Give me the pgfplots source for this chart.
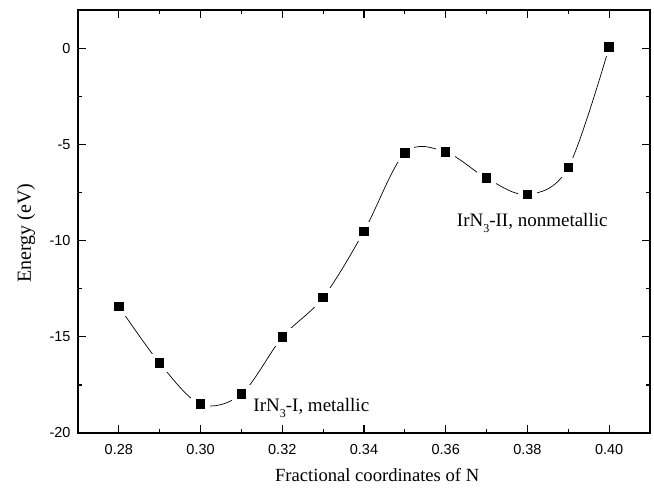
\documentclass[border=0pt]{standalone}
\usepackage{pgfplots}
\pgfplotsset{compat=1.18}
\usetikzlibrary{calc}
\usepackage{fontspec}
\setmainfont{Liberation Serif}
\newfontfamily\arialf{Liberation Sans}
\newcommand{\sub}[1]{{\fontsize{12}{12}\selectfont\raisebox{-0.5em}{#1}}}
\begin{document}
\begin{tikzpicture}
\begin{axis}[
  name=ax,
  scale only axis,
  width=572pt, height=423pt,
  xmin=0.27, xmax=0.41, ymin=-20, ymax=2,
  xtick={0.28,0.30,...,0.40},
  minor xtick={0.27,0.29,...,0.41},
  ytick={-20,-15,-10,-5,0},
  minor ytick={-17.5,-12.5,-7.5,-2.5},
  xticklabels={0.28,0.30,0.32,0.34,0.36,0.38,0.40},
  yticklabels={-20,-15,-10,-5,0},
  tick align=inside,
  tick pos=both,
  major tick length=8pt,
  minor tick length=4pt,
  axis line style={line width=1.6pt},
  tick style={line width=1.2pt, black},
  ticklabel style={font=\arialf\fontsize{14.5}{16}\selectfont},
  xticklabel style={anchor=base, yshift=-22pt},
  yticklabel style={anchor=east, xshift=-4pt},
  xlabel={Fractional coordinates of N},
  ylabel={Energy (eV)},
  xlabel style={font=\fontsize{18.6}{21}\selectfont, at={(axis description cs:0.523,-0.1135)}, anchor=base},
  ylabel style={font=\fontsize{20}{23}\selectfont, at={(axis description cs:-0.0822,0.472)}, anchor=base},
  clip=false,
]
\addplot[black, line width=0.7pt, smooth, tension=0.55,
  mark=square*, mark size=7pt,
  mark options={fill=black, draw=white, line width=4.5pt, solid}]
coordinates {
(0.28,-13.42) (0.29,-16.37) (0.30,-18.50) (0.31,-17.97) (0.32,-15.02)
(0.33,-12.95) (0.34,-9.51) (0.35,-5.44) (0.36,-5.39) (0.37,-6.75)
(0.38,-7.60) (0.39,-6.19) (0.40,0.07)
};
\node[anchor=base west, inner sep=0pt, font=\fontsize{19}{22}\selectfont] at (axis cs:0.3129,-18.9) {IrN\sub{3}-I, metallic};
\node[anchor=base west, inner sep=0pt, font=\fontsize{19}{22}\selectfont] at (axis cs:0.3627,-9.25) {IrN\sub{3}-II, nonmetallic};
\end{axis}
\pgfresetboundingbox
\path ($(ax.south west)+(-78pt,-59pt)$) rectangle ($(ax.north east)+(4pt,10pt)$);
\end{tikzpicture}
\end{document}
